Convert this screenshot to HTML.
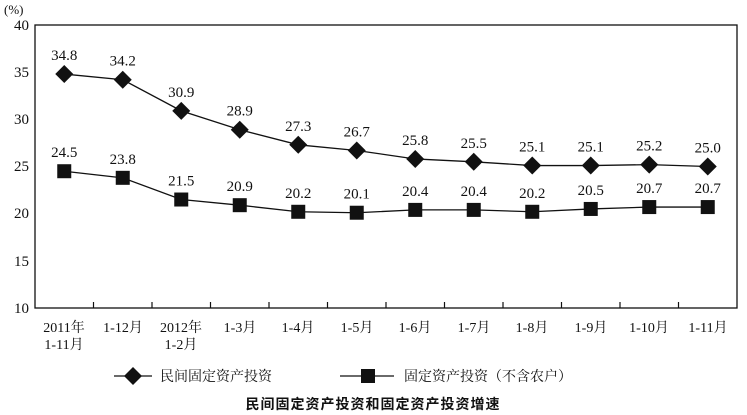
<!DOCTYPE html>
<html><head><meta charset="utf-8"><style>
body{margin:0;background:#fff;}
svg{display:block}
text{font-family:"Liberation Serif","Noto Serif CJK SC",serif;fill:#111}
</style></head><body>
<svg width="747" height="415" viewBox="0 0 747 415">
<g font-size="15">
<text x="4" y="14" font-size="13">(%)</text>
<text x="29" y="30" text-anchor="end">40</text>
<text x="29" y="77" text-anchor="end">35</text>
<text x="29" y="124" text-anchor="end">30</text>
<text x="29" y="171" text-anchor="end">25</text>
<text x="29" y="218" text-anchor="end">20</text>
<text x="29" y="266" text-anchor="end">15</text>
<text x="29" y="313" text-anchor="end">10</text>
</g>
<rect x="35" y="25" width="702" height="283" fill="none" stroke="#111" stroke-width="1.3"/>
<g stroke="#111" stroke-width="1.2" id="ticks"></g>
<g id="g"></g>
<g font-size="14">
<text x="64" y="332" text-anchor="middle">2011年</text>
<text x="64" y="349" text-anchor="middle">1-11月</text>
<text x="123" y="332" text-anchor="middle">1-12月</text>
<text x="181" y="332" text-anchor="middle">2012年</text>
<text x="181" y="349" text-anchor="middle">1-2月</text>
<text x="240" y="332" text-anchor="middle">1-3月</text>
<text x="298" y="332" text-anchor="middle">1-4月</text>
<text x="357" y="332" text-anchor="middle">1-5月</text>
<text x="415" y="332" text-anchor="middle">1-6月</text>
<text x="474" y="332" text-anchor="middle">1-7月</text>
<text x="532" y="332" text-anchor="middle">1-8月</text>
<text x="591" y="332" text-anchor="middle">1-9月</text>
<text x="649" y="332" text-anchor="middle">1-10月</text>
<text x="708" y="332" text-anchor="middle">1-11月</text>
</g>
<line x1="114" y1="376" x2="152" y2="376" stroke="#111" stroke-width="1.3"/>
<polygon points="133,367 142,376 133,385 124,376" fill="#111"/>
<text x="160" y="381" font-size="14">民间固定资产投资</text>
<line x1="340" y1="376" x2="394" y2="376" stroke="#111" stroke-width="1.3"/>
<rect x="361" y="369" width="14" height="14" fill="#111"/>
<text x="404" y="381" font-size="14">固定资产投资（不含农户）</text>
<text x="373" y="409" font-size="14" font-weight="bold" text-anchor="middle" style="font-family:'Liberation Sans','Noto Sans CJK SC',sans-serif" letter-spacing="1">民间固定资产投资和固定资产投资增速</text>
</svg>
<script>
var a=[34.8,34.2,30.9,28.9,27.3,26.7,25.8,25.5,25.1,25.1,25.2,25.0];
var b=[24.5,23.8,21.5,20.9,20.2,20.1,20.4,20.4,20.2,20.5,20.7,20.7];
var ns="http://www.w3.org/2000/svg",g=document.getElementById('g'),t=document.getElementById('ticks');
function X(i){return 35+58.5*(i+0.5)}function Y(v){return 308-(v-10)*9.433}
function el(n,at,p){var e=document.createElementNS(ns,n);for(var k in at)e.setAttribute(k,at[k]);(p||g).appendChild(e);return e}
for(var i=1;i<12;i++){el('line',{x1:35+58.5*i,x2:35+58.5*i,y1:308,y2:302},t)}
[a,b].forEach(function(s,si){
var pts=s.map(function(v,i){return X(i)+','+Y(v)}).join(' ');
el('polyline',{points:pts,fill:'none',stroke:'#111','stroke-width':1.3});
s.forEach(function(v,i){var x=X(i),y=Y(v);
if(si==0)el('polygon',{points:x+','+(y-9)+' '+(x+9)+','+y+' '+x+','+(y+9)+' '+(x-9)+','+y,fill:'#111'});
else el('rect',{x:x-7,y:y-7,width:14,height:14,fill:'#111'});
var tx=el('text',{x:x,y:y-14,'text-anchor':'middle','font-size':15});tx.textContent=v.toFixed(1);});
});
</script>
</body></html>
